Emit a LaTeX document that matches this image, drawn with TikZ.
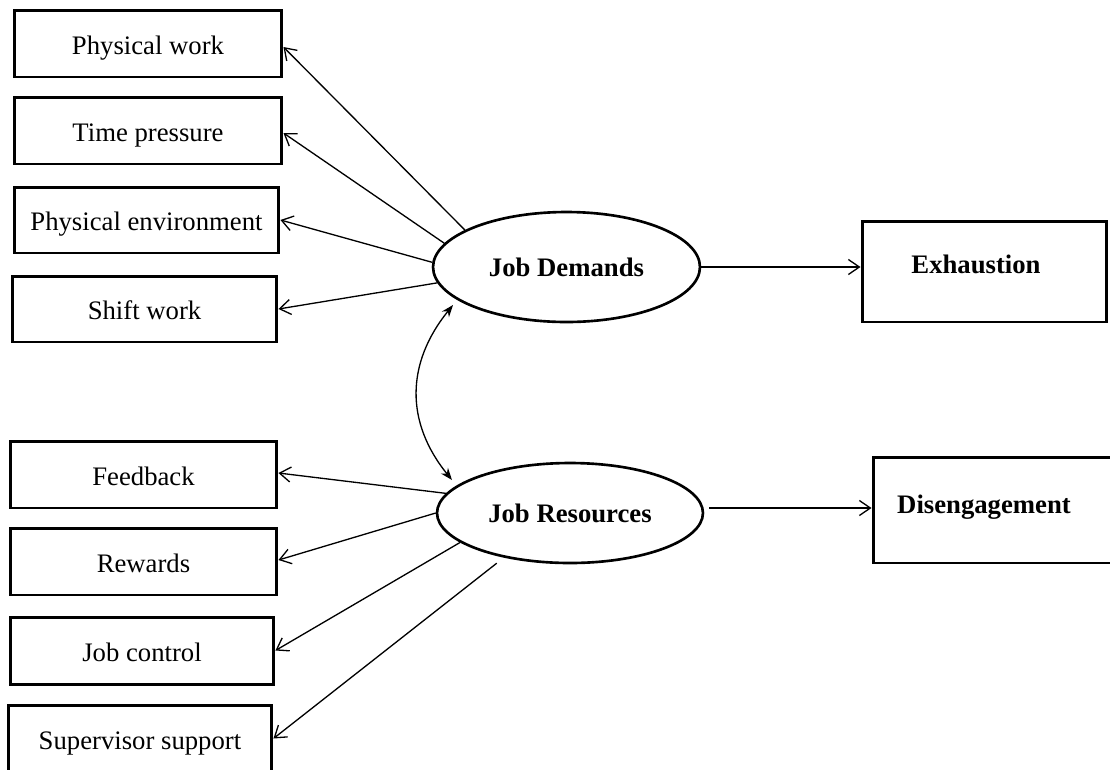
\documentclass[tikz,border=0pt]{standalone}
\usepackage{fontspec}
\setmainfont{Liberation Serif}
\usetikzlibrary{arrows.meta,shapes.geometric,calc}

\tikzset{
  factor/.style={draw, line width=1.7pt, rectangle, inner sep=0pt,
    text height=0.42cm, text depth=0pt,
    font=\fontsize{15.2}{17}\selectfont},
  latent/.style={draw, line width=1.5pt, ellipse, inner sep=0pt,
    text height=0.36cm, text depth=0pt,
    font=\fontsize{15.2}{17}\selectfont\bfseries},
  outcome/.style={draw, line width=1.7pt, rectangle, inner sep=0pt},
  outlabel/.style={inner sep=0pt, text height=0.34cm, text depth=0pt,
    font=\fontsize{15.2}{17}\selectfont\bfseries},
  load/.style={line width=0.75pt, -{Straight Barb[length=0.22cm,width=0.3cm,line width=0.75pt]}},
  covar/.style={line width=0.75pt, {Stealth[length=0.24cm,width=0.18cm]}-{Stealth[length=0.24cm,width=0.18cm]}}
}

\begin{document}
\begin{tikzpicture}[x=0.02cm, y=-0.02cm]
\useasboundingbox (0,0) rectangle (1110,769);

% demand indicators
\node[factor, minimum width=5.36cm, minimum height=1.34cm] (pw) at (148,43.5) {Physical work};
\node[factor, minimum width=5.36cm, minimum height=1.34cm] (tp) at (148,130.5) {Time pressure};
\node[factor, minimum width=5.30cm, minimum height=1.32cm] (pe) at (146.5,220) {Physical environment};
\node[factor, minimum width=5.30cm, minimum height=1.32cm] (sw) at (144.5,309) {Shift work};

% resource indicators
\node[factor, minimum width=5.34cm, minimum height=1.34cm] (fb) at (143.5,474.5) {Feedback};
\node[factor, minimum width=5.34cm, minimum height=1.34cm] (rw) at (143.5,561.5) {Rewards};
\node[factor, minimum width=5.28cm, minimum height=1.34cm] (jc) at (142,650.5) {Job control};
\node[factor, minimum width=5.28cm, minimum height=1.34cm] (ss) at (140,738.5) {Supervisor support};

% latent constructs
\node[latent, minimum width=5.34cm, minimum height=2.2cm] (jd) at (566.5,267) {Job Demands};
\node[latent, minimum width=5.32cm, minimum height=2.0cm] (jr) at (570,513) {Job Resources};

% outcomes
\node[outcome, minimum width=4.90cm, minimum height=2.02cm] (exh) at (984.5,271.5) {};
\node[outlabel] (exhtext) at (976,265) {Exhaustion};
\node[outcome, minimum width=4.94cm, minimum height=2.12cm] (dis) at (996.5,510) {};
\node[outlabel] (distext) at (984,505) {Disengagement};

% loadings of Job Demands
\draw[load] (jd.160.3) -- ([yshift=-0.07cm]pw.east);
\draw[load] (jd.169) -- ([yshift=-0.05cm]tp.east);
\draw[load] (jd.178.3) -- (pe.east);
\draw[load] (jd.187.5) -- (sw.east);

% loadings of Job Resources
\draw[load] (jr.171.3) -- ([yshift=0.03cm]fb.east);
\draw[load] (jr.180.4) -- ([yshift=0.03cm]rw.east);
\draw[load] (jr.195.1) -- (jc.east);
\draw[load, shorten <=0.18cm] (jr.214.6) -- (ss.east);

% paths to outcomes
\draw[load] (jd.east) -- (jd.east -| exh.west);
\draw[load, shorten <=0.1cm] ([yshift=0.1cm]jr.east) -- ([yshift=0.1cm]jr.east -| dis.west);

% covariance between the constructs
\draw[covar] ($(jd.center)+(-113.5,38)$) .. controls +(-47,58) and +(-47,-58) .. ($(jr.center)+(-118,-33)$);
\end{tikzpicture}
\end{document}
